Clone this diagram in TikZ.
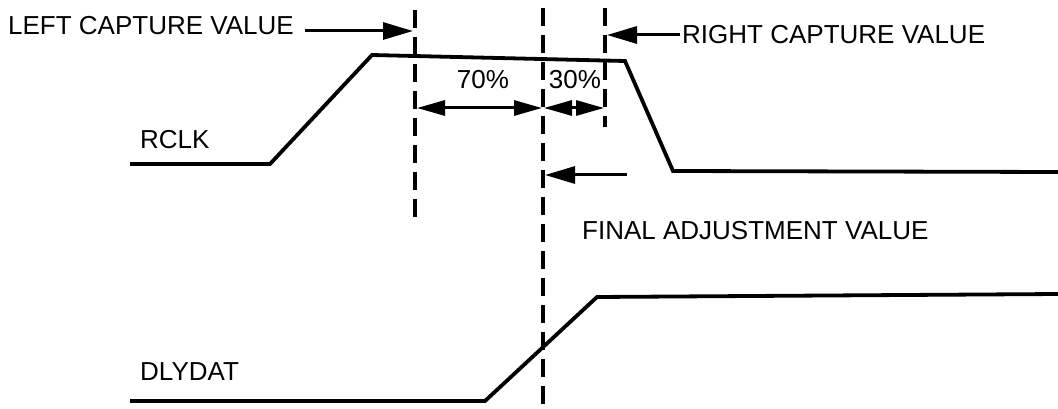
\documentclass[tikz,border=0pt]{standalone}
\usepackage{fontspec}
\setmainfont{Liberation Sans}
\usetikzlibrary{arrows.meta}
\begin{document}
\begin{tikzpicture}[x=1pt,y=-1pt,
  wave/.style={line width=3.8pt, line join=miter},
  guide/.style={line width=3.2pt, dash pattern=on 18pt off 9pt},
  pointer/.style={line width=3pt, -{Triangle[length=30pt,width=17pt]}},
  dim/.style={line width=3pt, {Triangle[length=28pt,width=15pt]}-{Triangle[length=28pt,width=15pt]}},
  lbl/.style={font=\fontsize{26}{28}\selectfont, inner sep=0pt}]
\useasboundingbox (0,0) rectangle (1058,409);
% waveforms
\draw[wave] (130,164) -- (270,164) -- (372,55) -- (625,61) -- (673,171) -- (1058,172);
\draw[wave] (130,401) -- (485,401) -- (597,297) -- (1058,294);
% guide lines
\coordinate (g1t) at (415,10); \coordinate (g1b) at (415,221);
\coordinate (g2t) at (543,8);  \coordinate (g2b) at (543,409);
\coordinate (g3t) at (605,8);  \coordinate (g3b) at (605,127);
\draw[guide] (g1t) -- (g1b);
\draw[guide] (g2t) -- (g2b);
\draw[guide] (g3t) -- (g3b);
% labels
\node[lbl, anchor=base west] (left) at (8,35) {LEFT CAPTURE VALUE};
\node[lbl, anchor=base west] (right) at (682,44) {RIGHT CAPTURE VALUE};
\node[lbl, anchor=base west] (rclk) at (140,149) {RCLK};
\node[lbl, anchor=base west] (dly) at (140,380) {DLYDAT};
\node[lbl, anchor=base] (p70) at (483,89) {70\%};
\node[lbl, anchor=base] (p30) at (575,89) {30\%};
\node[lbl, anchor=base west] (final) at (582,239) {FINAL ADJUSTMENT VALUE};
% arrows
\coordinate (la) at (305,31); \coordinate (lt) at (413,31);
\draw[pointer] (la) -- (lt);
\coordinate (ra) at (680,35); \coordinate (rt) at (607,35);
\draw[pointer] (ra) -- (rt);
\coordinate (d1) at (417,108); \coordinate (d2) at (542,108);
\coordinate (d3) at (544,108); \coordinate (d4) at (604,108);
\draw[dim] (d1) -- (d2);
\draw[dim] (d3) -- (d4);
\coordinate (fa) at (627,175); \coordinate (ft) at (545,175);
\draw[pointer] (fa) -- (ft);
\end{tikzpicture}
\end{document}
